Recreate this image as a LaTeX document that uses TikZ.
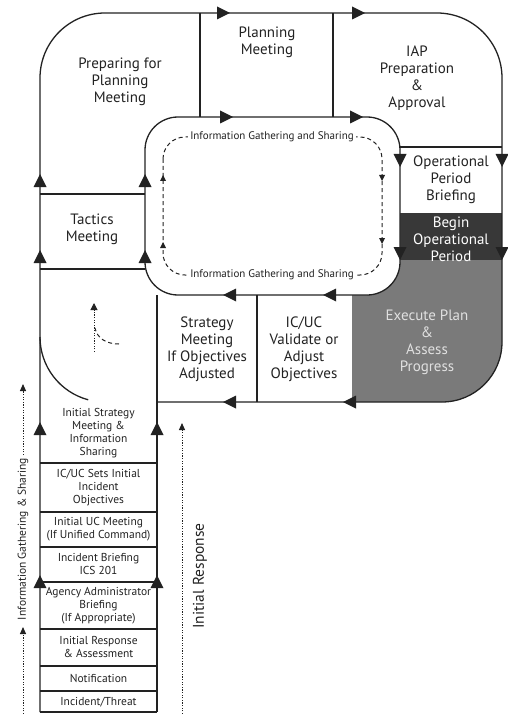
\documentclass[tikz,border=0pt]{standalone}
\usepackage{fontspec}
\setmainfont{PT Sans}
\usetikzlibrary{arrows.meta}
\definecolor{ink}{HTML}{222222}
\definecolor{execgray}{HTML}{7A7A7A}
\definecolor{darkbox}{HTML}{383838}
\tikzset{
  frame/.style={draw=ink, line width=1.3pt},
  lbl/.style={align=center, inner sep=0pt, text=ink, font=\fontsize{15}{17}\selectfont},
  smalllbl/.style={align=center, inner sep=0pt, text=ink, font=\fontsize{11.5}{13}\selectfont},
  loopnote/.style={inner sep=2pt, fill=white, text=ink, font=\fontsize{11}{12}\selectfont},
  dashline/.style={draw=ink, line width=1pt, dash pattern=on 4pt off 3pt},
  dotline/.style={draw=ink, line width=1pt, dash pattern=on 1.2pt off 1.4pt},
  tri/.pic={\fill[ink] (0,0) -- (-13,-6.5) -- (-13,6.5) -- cycle;},
  stri/.pic={\fill[ink] (0,0) -- (-6,-3) -- (-6,3) -- cycle;}
}
\begin{document}
\begin{tikzpicture}[x=1pt,y=-1pt]
\useasboundingbox (0,0) rectangle (508,714);

% shaded phases on the right
\fill[execgray] (352,260) -- (502,260) -- (502,342)
  arc[start angle=0, end angle=90, radius=60] -- (352,402) -- cycle;
\fill[darkbox] (400,213) rectangle (502,260);

% outer cycle boundary
\draw[frame] (40,712) -- (40,78)
  arc[start angle=180, end angle=270, radius=65] -- (437,13)
  arc[start angle=270, end angle=360, radius=65] -- (502,342)
  arc[start angle=0, end angle=90, radius=60] -- (157,402);

% inner cycle boundary
\draw[frame, fill=white, rounded corners=33] (145,117) rectangle (400,295);

% dividers between the phases
\draw[frame] (200,13) -- (200,117);
\draw[frame] (333,13) -- (333,117);
\draw[frame] (400,147) -- (502,147);
\draw[frame] (40,194) -- (145,194);
\draw[frame] (40,269) -- (145,269);
\draw[frame] (157,295) -- (157,712);
\draw[frame] (257,295) -- (257,402);
\draw[frame] (40,337) arc[start angle=180, end angle=105, radius=65];

% initial response stack
\foreach \yy in {463,512,547,582,629,666,691,712}
  \draw[frame] (40,\yy) -- (157,\yy);

% flow arrows along the cycle
\pic at (230,13) {tri};
\pic at (365,13) {tri};
\pic at (233,117) {tri};
\pic at (363,117) {tri};
\pic[rotate=-90] at (400,167) {tri};
\pic[rotate=-90] at (502,167) {tri};
\pic[rotate=-90] at (400,260) {tri};
\pic[rotate=-90] at (502,260) {tri};
\pic[rotate=180] at (323,295) {tri};
\pic[rotate=180] at (223,295) {tri};
\pic[rotate=180] at (343,402) {tri};
\pic[rotate=180] at (223,402) {tri};
\pic[rotate=90] at (40,174) {tri};
\pic[rotate=90] at (145,174) {tri};
\pic[rotate=90] at (40,250) {tri};
\pic[rotate=90] at (145,250) {tri};
\pic[rotate=90] at (40,422) {tri};
\pic[rotate=90] at (157,422) {tri};
\pic[rotate=90] at (40,575) {tri};
\pic[rotate=90] at (157,575) {tri};

% information loop inside the cycle
\draw[dashline, rounded corners=22] (163,137) rectangle (382,275);
\pic[rotate=90] at (163,175) {stri};
\pic[rotate=90] at (163,242) {stri};
\pic[rotate=-90] at (382,181) {stri};
\pic[rotate=-90] at (382,244) {stri};
\node[loopnote] (igtop) at (272,137) {Information Gathering and Sharing};
\node[loopnote] (igbot) at (272,275) {Information Gathering and Sharing};

% small branch arrow
\draw[dotline, -{Triangle[length=7pt,width=7pt]}] (94,352) -- (94,303);
\draw[dashline] (119,344) .. controls (106,344) and (97,338) .. (95,328);

% side annotations
\draw[dotline, -{Triangle[length=7pt,width=6pt]}] (23,714) -- (23,627);
\draw[dotline, -{Triangle[length=7pt,width=6pt]}] (23,455) -- (23,384);
\node[rotate=90, inner sep=0pt, text=ink, font=\fontsize{11.5}{12}\selectfont] (igside) at (23,539) {Information Gathering \& Sharing};
\draw[dotline, -{Triangle[length=7pt,width=6pt]}] (182,714) -- (182,423);
\node[rotate=90, inner sep=0pt, text=ink, font=\fontsize{15.5}{17}\selectfont] (ir) at (200,576) {Initial Response};

% phase labels
\node[lbl] (prep) at (120,82) {Preparing for\\Planning\\Meeting};
\node[lbl] (plan) at (267,42) {Planning\\Meeting};
\node[lbl] (iap) at (417,78) {IAP\\Preparation\\\&\\Approval};
\node[lbl] (opb) at (451,180) {Operational\\Period\\Briefing};
\node[lbl, text=white] (bop) at (451,239) {Begin\\Operational\\Period};
\node[lbl, text=black!12] (exec) at (427,342) {Execute Plan\\\&\\Assess\\Progress};
\node[lbl] (icuc) at (304,349) {IC/UC\\Validate or\\Adjust\\Objectives};
\node[lbl] (strat) at (207,349) {Strategy\\Meeting\\If Objectives\\Adjusted};
\node[lbl] (tact) at (92,229) {Tactics\\Meeting};

% stack labels
\node[smalllbl] (ism) at (98.5,433) {Initial Strategy\\Meeting \&\\Information\\Sharing};
\node[smalllbl] (sets) at (98.5,488) {IC/UC Sets Initial\\Incident\\Objectives};
\node[smalllbl] (iuc) at (98.5,529) {Initial UC Meeting\\(If Unified Command)};
\node[smalllbl] (ib) at (98.5,564) {Incident Briefing\\ICS 201};
\node[smalllbl] (aab) at (98.5,606) {Agency Administrator\\Briefing\\(If Appropriate)};
\node[smalllbl] (ira) at (98.5,647) {Initial Response\\\& Assessment};
\node[smalllbl] (notif) at (98.5,678) {Notification};
\node[smalllbl] (threat) at (98.5,702) {Incident/Threat};
\end{tikzpicture}
\end{document}
